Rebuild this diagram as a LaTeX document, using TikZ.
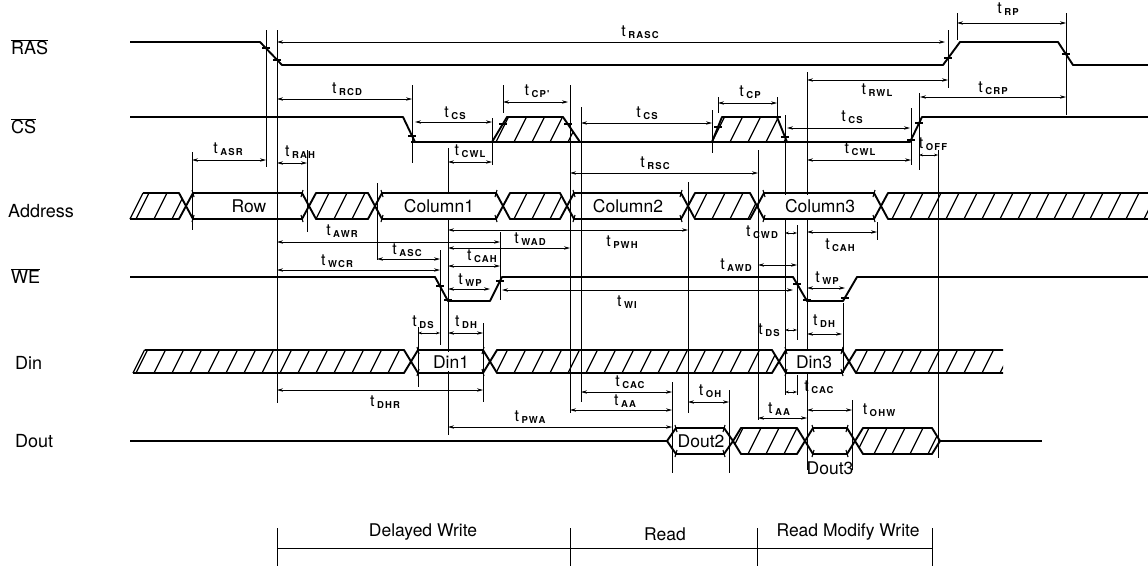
\documentclass[tikz,border=0pt]{standalone}
\usepackage{fontspec}
\setmainfont{TeX Gyre Heros}
\newfontfamily\subfont[LetterSpace=12]{TeX Gyre Heros}
\usetikzlibrary{arrows.meta}
\tikzset{
 wave/.style={line width=1.9pt, line join=round},
 hatchline/.style={line width=1.3pt},
 vline/.style={line width=0.75pt},
 etick/.style={line width=1.1pt},
 dimline/.style={line width=0.75pt, {Stealth[length=6pt,width=3.4pt]}-{Stealth[length=6pt,width=3.4pt]}},
 sdim/.style={line width=0.75pt, {Stealth[length=4pt,width=2.8pt]}-{Stealth[length=4pt,width=2.8pt]}},
 tlab/.style={inner sep=0pt, font=\fontsize{16}{16}\selectfont},
 siglab/.style={anchor=west, inner sep=0pt, font=\fontsize{18}{18}\selectfont},
 buslab/.style={inner sep=0pt, font=\fontsize{17.5}{17.5}\selectfont},
 phaselab/.style={inner sep=0pt, font=\fontsize{17.5}{17.5}\selectfont},
}
\newcommand{\tl}[1]{t\kern2.5pt\raisebox{-1.8pt}{\subfont\fontsize{9.5}{9.5}\selectfont\bfseries #1}}
\newcommand{\hatchset}[2]{\foreach \hx in {100,118,...,1170}{\draw[hatchline] (\hx,#2) -- ++({0.5*(#2-#1)},{#1-#2});}}
\newcommand{\hhex}[5]{%
  \begin{scope}
    \clip ({#1},{(#3+#4)/2}) -- ({#1+#5},#3) -- ({#2-#5},#3) -- ({#2},{(#3+#4)/2}) -- ({#2-#5},#4) -- ({#1+#5},#4) -- cycle;
    \hatchset{#3}{#4}
  \end{scope}
  \draw[wave] ({#1},{(#3+#4)/2}) -- ({#1+#5},#3) -- ({#2-#5},#3) -- ({#2},{(#3+#4)/2}) -- ({#2-#5},#4) -- ({#1+#5},#4) -- cycle;}
\newcommand{\vhex}[5]{%
  \draw[wave] ({#1},{(#3+#4)/2}) -- ({#1+#5},#3) -- ({#2-#5},#3) -- ({#2},{(#3+#4)/2}) -- ({#2-#5},#4) -- ({#1+#5},#4) -- cycle;
  \draw[etick] ({#1+#5-1},{#3-3}) -- ({#1+#5+1},{#3+4});
  \draw[etick] ({#1+#5-1},{#4+3}) -- ({#1+#5+1},{#4-4});
  \draw[etick] ({#2-#5+1},{#3-3}) -- ({#2-#5-1},{#3+4});
  \draw[etick] ({#2-#5+1},{#4+3}) -- ({#2-#5-1},{#4-4});}
\newcommand{\hopen}[5]{%
  \begin{scope}
    \clip ({#1},{(#3+#4)/2}) -- ({#1+#5},#3) -- (#2,#3) -- (#2,#4) -- ({#1+#5},#4) -- cycle;
    \hatchset{#3}{#4}
  \end{scope}
  \draw[wave] (#2,#3) -- ({#1+#5},#3) -- ({#1},{(#3+#4)/2}) -- ({#1+#5},#4) -- (#2,#4);}
\newcommand{\hstart}[5]{%
  \begin{scope}
    \clip (#1,#4) -- ({#1+0.5*(#4-#3)},#3) -- ({#2-#5},#3) -- ({#2},{(#3+#4)/2}) -- ({#2-#5},#4) -- cycle;
    \hatchset{#3}{#4}
  \end{scope}
  \draw[wave] ({#1+0.5*(#4-#3)},#3) -- ({#2-#5},#3) -- ({#2},{(#3+#4)/2}) -- ({#2-#5},#4) -- (#1,#4);
  \draw[hatchline] (#1,#4) -- ({#1+0.5*(#4-#3)},#3);}
\newcommand{\dm}[3]{\draw[dimline] (#1,#3) -- (#2,#3);}
\newcommand{\sdm}[3]{\draw[sdim] (#1,#3) -- (#2,#3);}
\newcommand{\vl}[3]{\draw[vline] (#1,#2) -- (#1,#3);}
\begin{document}
\begin{tikzpicture}[x=1pt,y=-1pt]
\useasboundingbox (0,0) rectangle (1148,565);

% ---- signal names
\node[siglab] (lRAS) at (11,47) {$\overline{\mbox{RAS}}$};
\node[siglab] (lCS) at (11,126) {$\overline{\mbox{CS}}$};
\node[siglab] (lAddr) at (8,211) {Address};
\node[siglab] (lWE) at (11,276) {$\overline{\mbox{WE}}$};
\node[siglab] (lDin) at (15,363) {Din};
\node[siglab] (lDout) at (15,441) {Dout};

% ---- vertical reference lines
\vl{192}{152}{230}
\vl{266}{30}{167}
\vl{277}{30}{403}
\vl{307}{150}{232}
\vl{377}{183}{260}
\vl{412}{85}{163}
\vl{418}{327}{387}
\vl{440}{250}{345}
\vl{448}{148}{193}
\vl{448}{219}{352}
\vl{448}{371}{435}
\vl{483}{323}{402}
\vl{492}{118}{165}
\vl{500}{232}{300}
\vl{503}{85}{113}
\vl{570}{85}{413}
\vl{581}{107}{402}
\vl{672}{382}{473}
\vl{688}{182}{413}
\vl{712}{110}{153}
\vl{718}{97}{113}
\vl{729}{390}{473}
\vl{758}{150}{420}
\vl{777}{97}{117}
\vl{785}{115}{195}
\vl{785}{218}{395}
\vl{797}{225}{340}
\vl{797}{375}{395}
\vl{807}{72}{195}
\vl{807}{218}{350}
\vl{807}{373}{470}
\vl{843}{303}{373}
\vl{852}{400}{470}
\vl{877}{222}{240}
\vl{911}{108}{165}
\vl{919}{93}{170}
\vl{938}{150}{458}
\vl{948}{30}{88}
\vl{957}{13}{40}
\vl{1066}{13}{115}

% ---- RAS
\draw[wave] (130,42) -- (260,42) -- (282,65) -- (943,65) -- (960,42) -- (1058,42) -- (1073,65) -- (1148,65);

% ---- CS
\draw[wave] (130,117) -- (403,117) -- (415,142) -- (910,142) -- (922,117) -- (1148,117);
\begin{scope}
  \clip (492,142) -- (507,117) -- (563,117) -- (580,142) -- cycle;
  \hatchset{117}{142}
\end{scope}
\draw[wave] (492,142) -- (507,117) -- (563,117) -- (580,142);
\begin{scope}
  \clip (712,142) -- (722,117) -- (777,117) -- (787,142) -- cycle;
  \hatchset{117}{142}
\end{scope}
\draw[wave] (712,142) -- (722,117) -- (777,117) -- (787,142);

% ---- WE
\draw[wave] (130,277) -- (435,277) -- (448,301) -- (490,301) -- (502,277) -- (793,277) -- (807,301) -- (843,301) -- (857,277) -- (1148,277);

% ---- edge ticks
\foreach \ex/\ey in {266/48, 277/60, 948/58, 1066/54, 412/136, 415/142, 911/140, 919/123,
  492/142, 503/124, 568/124, 580/142, 712/142, 718/127, 777/117, 785/137,
  440/286, 448/300, 500/281, 797/284, 807/300, 845/298}
  {\draw[etick] ({\ex-4},\ey) -- ({\ex+4},\ey);}

% ---- Address
\hstart{130}{186}{193}{219}{7}
\vhex{186}{309}{193}{219}{7}
\hhex{309}{375}{193}{219}{7}
\vhex{375}{503}{193}{219}{7}
\hhex{503}{567}{193}{219}{7}
\vhex{567}{688}{193}{219}{7}
\hhex{688}{757}{193}{219}{7}
\vhex{757}{881}{193}{219}{7}
\hopen{881}{1148}{193}{219}{7}
\node[buslab] (row) at (249,206) {Row};
\node[buslab] (col1) at (439,206) {Column1};
\node[buslab] (col2) at (628,206) {Column2};
\node[buslab] (col3) at (820,206) {Column3};

% ---- Din
\hstart{133}{411}{350}{373}{7}
\vhex{411}{490}{350}{373}{7}
\hhex{490}{779}{350}{373}{7}
\vhex{779}{849}{350}{373}{7}
\hopen{849}{1003}{350}{373}{7}
\node[buslab] (din1) at (451,362) {Din1};
\node[buslab] (din3) at (814,362) {Din3};

% ---- Dout
\draw[wave] (130,441) -- (667,441);
\vhex{667}{733}{428}{454}{9}
\hhex{733}{805}{428}{454}{8}
\vhex{805}{855}{428}{454}{8}
\hhex{855}{940}{428}{454}{8}
\draw[wave] (940,441) -- (1042,441);
\node[buslab] (dout2) at (701,441) {Dout2};
\node[buslab] (dout3) at (830,468) {Dout3};

% ---- dimension arrows
\dm{277}{945}{42}
\dm{957}{1066}{23}
\dm{277}{412}{99}
\dm{415}{492}{122}
\dm{503}{568}{102}
\dm{581}{712}{123}
\dm{718}{777}{103}
\dm{787}{910}{128}
\dm{807}{948}{80}
\dm{920}{1066}{97}
\dm{448}{492}{162}
\dm{807}{911}{160}
\sdm{919}{938}{155}
\dm{192}{266}{160}
\dm{277}{307}{163}
\dm{570}{758}{173}
\dm{448}{688}{230}
\dm{277}{500}{242}
\dm{448}{570}{248}
\dm{377}{440}{259}
\dm{448}{500}{266}
\dm{277}{440}{270}
\dm{448}{490}{289}
\dm{502}{793}{290}
\sdm{785}{797}{233}
\dm{807}{877}{232}
\dm{758}{797}{265}
\dm{807}{845}{288}
\sdm{418}{440}{333}
\dm{448}{483}{333}
\sdm{785}{797}{330}
\dm{807}{842}{334}
\dm{277}{483}{390}
\dm{581}{672}{392}
\dm{570}{672}{410}
\dm{688}{729}{402}
\sdm{785}{797}{392}
\dm{758}{807}{418}
\dm{807}{852}{410}
\dm{448}{672}{427}

% ---- timing labels
\node[tlab] (tRASC) at (640,32) {\tl{RASC}};
\node[tlab] (tRP) at (1008,9) {\tl{RP}};
\node[tlab] (tRCD) at (347,89) {\tl{RCD}};
\node[tlab] (tCSa) at (455,113) {\tl{CS}};
\node[tlab] (tCPa) at (537,91) {\tl{CP'}};
\node[tlab] (tCSb) at (647,113) {\tl{CS}};
\node[tlab] (tCPb) at (750,92) {\tl{CP}};
\node[tlab] (tCSc) at (852,117) {\tl{CS}};
\node[tlab] (tRWL) at (877,90) {\tl{RWL}};
\node[tlab] (tCRP) at (993,88) {\tl{CRP}};
\node[tlab] (tCWLa) at (470,151) {\tl{CWL}};
\node[tlab] (tCWLb) at (860,149) {\tl{CWL}};
\node[tlab] (tOFF) at (933,144) {\tl{OFF}};
\node[tlab] (tASR) at (228,149) {\tl{ASR}};
\node[tlab] (tRAH) at (300,152) {\tl{RAH}};
\node[tlab] (tRSC) at (655,163) {\tl{RSC}};
\node[tlab] (tAWR) at (342,231) {\tl{AWR}};
\node[tlab] (tPWH) at (622,242) {\tl{PWH}};
\node[tlab] (tWAD) at (530,239) {\tl{WAD}};
\node[tlab] (tASC) at (407,250) {\tl{ASC}};
\node[tlab] (tCAHa) at (482,256) {\tl{CAH}};
\node[tlab] (tWCR) at (337,261) {\tl{WCR}};
\node[tlab] (tWPa) at (470,280) {\tl{WP}};
\node[tlab] (tWI) at (627,302) {\tl{WI}};
\node[tlab] (tCWD) at (762,232) {\tl{CWD}};
\node[tlab] (tAWD) at (736,265) {\tl{AWD}};
\node[tlab] (tCAHb) at (840,245) {\tl{CAH}};
\node[tlab] (tWPb) at (827,278) {\tl{WP}};
\node[tlab] (tDSa) at (423,322) {\tl{DS}};
\node[tlab] (tDHa) at (466,322) {\tl{DH}};
\node[tlab] (tDSb) at (769,330) {\tl{DS}};
\node[tlab] (tDHb) at (824,321) {\tl{DH}};
\node[tlab] (tDHR) at (385,402) {\tl{DHR}};
\node[tlab] (tCACa) at (630,382) {\tl{CAC}};
\node[tlab] (tAAa) at (625,401) {\tl{AA}};
\node[tlab] (tOH) at (710,391) {\tl{OH}};
\node[tlab] (tCACb) at (819,387) {\tl{CAC}};
\node[tlab] (tAAb) at (779,409) {\tl{AA}};
\node[tlab] (tOHW) at (879,410) {\tl{OHW}};
\node[tlab] (tPWA) at (530,417) {\tl{PWA}};

% ---- phases
\draw[vline] (277,548) -- (932,548);
\foreach \px in {277,570,757,932} {\draw[vline] (\px,528) -- (\px,566);}
\node[phaselab] (ph1) at (423,532) {Delayed Write};
\node[phaselab] (ph2) at (665,534) {Read};
\node[phaselab] (ph3) at (848,532) {Read Modify Write};
\end{tikzpicture}
\end{document}
